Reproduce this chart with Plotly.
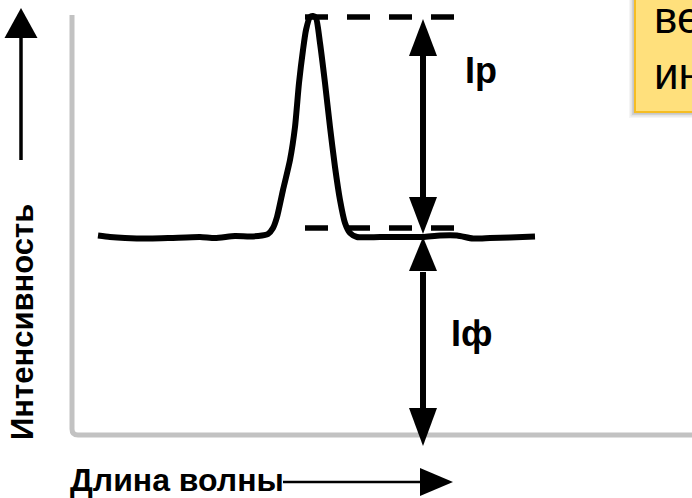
import plotly.graph_objects as go

# Emission line on a flat background: wavelength vs intensity (arbitrary units)
wavelength = [26, 38, 53, 78, 98, 128, 143, 163, 178, 190,
              196, 201, 205, 211, 218, 223, 227, 231, 234, 238,
              241, 244, 248, 253, 258, 263, 268, 273, 278, 285,
              308, 338, 351, 368, 385, 401, 418, 438, 463]
intensity = [199.5, 198, 197, 196.5, 197, 198, 197, 199, 198.5, 199.5,
             201, 207, 218, 245, 275, 308, 352, 385, 405, 418,
             419, 417, 392, 352, 308, 268, 235, 212, 202, 198,
             198, 198, 198, 199.5, 199.5, 196.5, 197, 197.5, 198.5]
background_level = 198          # Iф
peak_level = max(intensity)     # top of the line, Ip measured from background

W, H = 692, 498
X_RANGE = [-72, 620]
Y_RANGE = [-63, 435]
KX = W / (X_RANGE[1] - X_RANGE[0])
KY = H / (Y_RANGE[1] - Y_RANGE[0])

ARROW_X = 351                    # wavelength where Ip / Iф arrows stand
DASH_SPAN = (233, 382)           # wavelength span of the dashed guide lines


def dx2px(x):
    return (x - X_RANGE[0]) * KX


def dy2px(y):
    return H - (y - Y_RANGE[0]) * KY


def px(x, y):
    """pixel -> paper coordinates"""
    return x / W, 1 - y / H


shapes = []


def line_px(x0, y0, x1, y1, width, color="black", dash=None, layer="above"):
    a, b = px(x0, y0)
    c, d = px(x1, y1)
    shapes.append(dict(type="line", xref="paper", yref="paper",
                       x0=a, y0=b, x1=c, y1=d, layer=layer,
                       line=dict(color=color, width=width, dash=dash)))


def head_px(tx, ty, direction, length, width, color="black"):
    """filled triangular arrow head with its tip at (tx, ty) in pixels"""
    hw = width / 2
    if direction == "up":
        pts = [(tx, ty), (tx - hw, ty + length), (tx + hw, ty + length)]
    elif direction == "down":
        pts = [(tx, ty), (tx - hw, ty - length), (tx + hw, ty - length)]
    else:  # right
        pts = [(tx, ty), (tx - length, ty - hw), (tx - length, ty + hw)]
    p = [px(*q) for q in pts]
    path = "M {},{} L {},{} L {},{} Z".format(*[v for q in p for v in q])
    shapes.append(dict(type="path", xref="paper", yref="paper", path=path,
                       fillcolor=color, line=dict(width=0), layer="above"))


# grey L-shaped axes
ax_x, ax_y = dx2px(0), dy2px(0)
p0 = px(ax_x, 15)
p1 = px(ax_x, ax_y - 6)
p2 = px(ax_x, ax_y)
p3 = px(ax_x + 6, ax_y)
p4 = px(W + 10, ax_y)
shapes.append(dict(type="path", xref="paper", yref="paper", layer="below",
                   path=f"M {p0[0]},{p0[1]} L {p1[0]},{p1[1]} Q {p2[0]},{p2[1]} {p3[0]},{p3[1]} L {p4[0]},{p4[1]}",
                   line=dict(color="#c2c2c2", width=5)))

# dashed guide lines at peak and background levels
for lvl in (peak_level - 1, background_level + 9):
    line_px(dx2px(DASH_SPAN[0]), dy2px(lvl), dx2px(DASH_SPAN[1]), dy2px(lvl),
            5.5, dash="23px,19px", layer="below")

# Ip double arrow
axp = dx2px(ARROW_X)
top_tip = dy2px(peak_level) + 3
bot_tip = dy2px(background_level) - 3
HL, HW = 37, 28
line_px(axp, top_tip + HL - 2, axp, bot_tip - HL + 2, 6)
head_px(axp, top_tip, "up", HL, HW)
head_px(axp, bot_tip, "down", HL, HW)

# Iф double arrow
f_top = dy2px(background_level)
f_bot = dy2px(0) + 11
line_px(axp, f_top + HL - 2, axp, f_bot - HL + 2, 6)
head_px(axp, f_top, "up", 34, HW)
head_px(axp, f_bot, "down", 38, HW)

# axis direction arrows
line_px(21, 160, 21, 36, 3.5)
head_px(21, 8, "up", 30, 33)
line_px(283, 482, 423, 482, 2.5)
head_px(453, 482, "right", 33, 28)

# yellow note box with soft shadow (top right)
for off, op in ((6, 0.06), (4.5, 0.10), (3, 0.14), (1.5, 0.16)):
    a, b = px(635 - off, -10)
    c, d = px(W + 20, 112 + off)
    shapes.append(dict(type="rect", xref="paper", yref="paper",
                       x0=a, y0=b, x1=c, y1=d, layer="above",
                       fillcolor=f"rgba(90,90,90,{op})", line=dict(width=0)))
a, b = px(635, -10)
c, d = px(W + 20, 112)
shapes.append(dict(type="rect", xref="paper", yref="paper",
                   x0=a, y0=b, x1=c, y1=d, layer="above",
                   fillcolor="#ffe07c", line=dict(color="#f5bd24", width=2)))

BOLD = dict(family="Liberation Sans, Arial, sans-serif", color="black")


def text(s, x, y, size, xanchor="left", yanchor="top", angle=0, bold=True):
    xp, yp = px(x, y)
    f = dict(BOLD, size=size)
    return dict(text=f"<b>{s}</b>" if bold else s, x=xp, y=yp,
                xref="paper", yref="paper", xanchor=xanchor, yanchor=yanchor,
                textangle=angle, showarrow=False, font=f, borderpad=0)


annotations = [
    text("Ip", 464, 49, 36),
    text("Iф", 450, 312, 36),
    text("Длина волны", 69, 461, 32),
    text("Интенсивность", 22, 322, 31, xanchor="center", yanchor="middle", angle=-90),
    text("величина", 653, -8, 44, bold=False),
    text("интенсивности", 653, 48, 44, bold=False),
]

fig = go.Figure(go.Scatter(x=wavelength, y=intensity, mode="lines",
                           line=dict(color="black", width=6, shape="spline", smoothing=0.6),
                           hoverinfo="skip"))
fig.update_layout(width=W, height=H, margin=dict(l=0, r=0, t=0, b=0),
                  paper_bgcolor="white", plot_bgcolor="white", showlegend=False,
                  xaxis=dict(range=X_RANGE, visible=False, fixedrange=True),
                  yaxis=dict(range=Y_RANGE, visible=False, fixedrange=True),
                  shapes=shapes, annotations=annotations)
fig.write_html("out.html", config={"displayModeBar": False})
